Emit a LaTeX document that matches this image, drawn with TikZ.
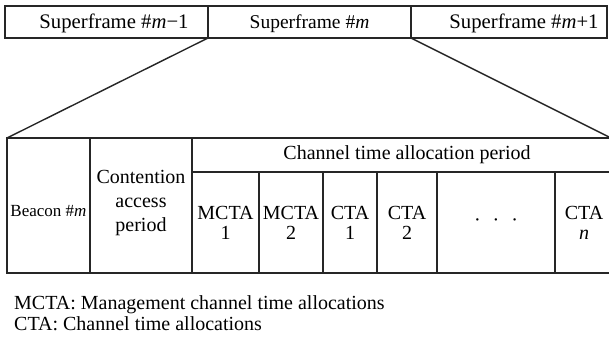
\documentclass[tikz,border=0pt]{standalone}
\usepackage{fontspec}
\setmainfont{Liberation Serif}
\definecolor{ln}{HTML}{262626}
\begin{document}
\begin{tikzpicture}[x=1pt,y=-1pt,
  cell/.style={draw=ln, line width=1.4pt, inner sep=0pt, outer sep=0pt,
    anchor=north west, align=center, text=black,
    font=\fontsize{20}{24}\selectfont},
  hdr/.style={cell, minimum height=32pt},
  hdrtext/.style={inner sep=0pt, text=black, anchor=base},
  tall/.style={cell, minimum height=135pt},
  slot/.style={cell, minimum height=101pt, font=\fontsize{20}{20}\selectfont},
  conn/.style={draw=ln, line width=1.4pt},
  legend/.style={anchor=base west, inner sep=0pt, font=\fontsize{20}{21}\selectfont}]
\useasboundingbox (0,0) rectangle (609,344);
\clip (0,0) rectangle (609,344);
% superframes
\node[hdr, minimum width=203pt] (sf1) at (5,6) {};
\node[hdr, minimum width=203pt] (sf2) at (208,6) {};
\node[hdr, minimum width=196pt] (sf3) at (411,6) {};
\node[hdrtext, font=\fontsize{20.7}{24}\selectfont] (sf1t) at (114,28.5) {Superframe \#\textit{m}−1};
\node[hdrtext, font=\fontsize{19.5}{24}\selectfont] (sf2t) at (309.5,28.5) {Superframe \#\textit{m}};
\node[hdrtext, font=\fontsize{20.7}{24}\selectfont] (sf3t) at (524,28.5) {Superframe \#\textit{m}+1};
% expanded superframe
\node[tall, minimum width=83pt, font=\fontsize{17}{20}\selectfont] (beacon) at (7,138) {\raisebox{-11.5pt}[0pt][0pt]{Beacon \#\textit{m}}};
\node[tall, minimum width=102pt, text depth=10pt] (cap) at (90,138) {Contention\\access\\period};
\node[cell, minimum width=430pt, minimum height=34pt] (ctap) at (192,138) {Channel time allocation period};
\node[slot, minimum width=67pt] (mcta1) at (192,172) {MCTA\\1};
\node[slot, minimum width=64pt] (mcta2) at (259,172) {MCTA\\2};
\node[slot, minimum width=54pt] (cta1) at (323,172) {CTA\\1};
\node[slot, minimum width=60pt] (cta2) at (377,172) {CTA\\2};
\node[slot, minimum width=118pt] (dots) at (437,172) {·\hspace{12pt}·\hspace{12pt}·};
\node[slot, minimum width=58pt] (ctan) at (555,172) {CTA\\\textit{n}};
\coordinate (rend) at (611,138);
% zoom lines
\draw[conn] (sf2.south west) -- (beacon.north west);
\draw[conn] (sf2.south east) -- (rend);
% legend
\node[legend] (leg1) at (14,309) {MCTA: Management channel time allocations};
\node[legend] (leg2) at (14,330) {CTA: Channel time allocations};
\end{tikzpicture}
\end{document}
